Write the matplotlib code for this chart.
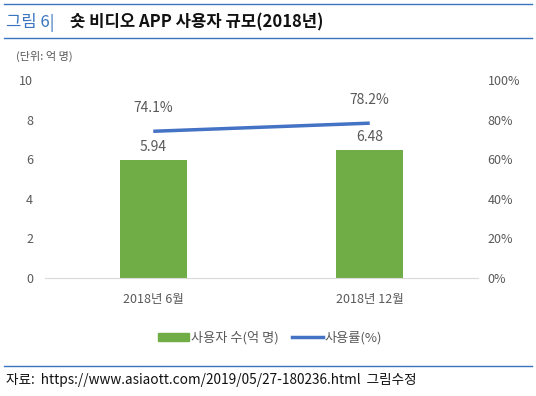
import matplotlib
matplotlib.use("Agg")
import matplotlib.pyplot as plt
from matplotlib.lines import Line2D
from matplotlib.patches import Patch

plt.rcParams['font.family'] = ['Noto Sans CJK KR', 'DejaVu Sans']

categories = ['2018년 6월', '2018년 12월']
users = [5.94, 6.48]          # 사용자 수(억 명)
usage_rate = [74.1, 78.2]     # 사용률(%)
left_ticks = [0, 2, 4, 6, 8, 10]
right_ticks = [0, 20, 40, 60, 80, 100]

GREEN = '#70AD47'
BLUE = '#4472C4'
GRAY = '#595959'

W, H = 536, 396
fig = plt.figure(figsize=(W / 100, H / 100), dpi=100)

def fx(px):
    return px / W

def fy(py):
    return 1 - py / H

# header / footer rules
for y in (4, 38, 366):
    fig.add_artist(Line2D([fx(4), fx(532)], [fy(y), fy(y)], color='#3B75BF', lw=1.0))

fig.text(fx(6), fy(22), '그림 6|', color='#3B75BF', fontsize=12, va='center')
fig.text(fx(70), fy(22), '숏 비디오 APP 사용자 규모(2018년)', color='#111111',
         fontsize=12, va='center', fontweight='bold')
fig.text(fx(16), fy(56), '(단위: 억 명)', color=GRAY, fontsize=8, va='center')
fig.text(fx(6), fy(380), '자료:  https://www.asiaott.com/2019/05/27-180236.html  그림수정',
         color='#111111', fontsize=9.8, va='center')

ax = fig.add_axes([fx(45), fy(278), fx(478) - fx(45), fy(80) - fy(278)])
x = list(range(len(categories)))
ax.bar(x, users, width=0.31, color=GREEN, zorder=2)
ax.set_xlim(-0.5, 1.5)
ax.set_ylim(0, 10)
ax.set_yticks(left_ticks)
ax.set_xticks(x)
ax.set_xticklabels(categories)
for s in ('top', 'right', 'left'):
    ax.spines[s].set_visible(False)
ax.spines['bottom'].set_color('#D9D9D9')
ax.tick_params(axis='both', length=0, colors=GRAY, labelsize=9)
ax.tick_params(axis='y', pad=8.5)
ax.tick_params(axis='x', pad=11)

for xi, v in zip(x, users):
    ax.text(xi, v + 0.3, f'{v:.2f}', ha='center', va='bottom', color=GRAY, fontsize=10)

ax2 = ax.twinx()
ax2.plot(x, usage_rate, color=BLUE, lw=2.5, solid_capstyle='butt', zorder=3)
ax2.set_ylim(0, 100)
ax2.set_yticks(right_ticks)
ax2.set_yticklabels([f'{t}%' for t in right_ticks])
for s in ('top', 'right', 'left', 'bottom'):
    ax2.spines[s].set_visible(False)
ax2.tick_params(axis='y', length=0, colors=GRAY, labelsize=9, pad=7)

for xi, v in zip(x, usage_rate):
    ax2.text(xi, v + 8, f'{v:.1f}%', ha='center', va='bottom', color=GRAY, fontsize=10)

handles = [Patch(color=GREEN), Line2D([], [], color=BLUE, lw=2.5)]
fig.legend(handles, ['사용자 수(억 명)', '사용률(%)'], loc='center',
           bbox_to_anchor=(fx(270), fy(338)), ncol=2, frameon=False,
           fontsize=9.5, labelcolor=GRAY, handlelength=2.4, handleheight=0.6,
           handletextpad=0.1, columnspacing=1.0)

fig.savefig('out.png', dpi=100)
